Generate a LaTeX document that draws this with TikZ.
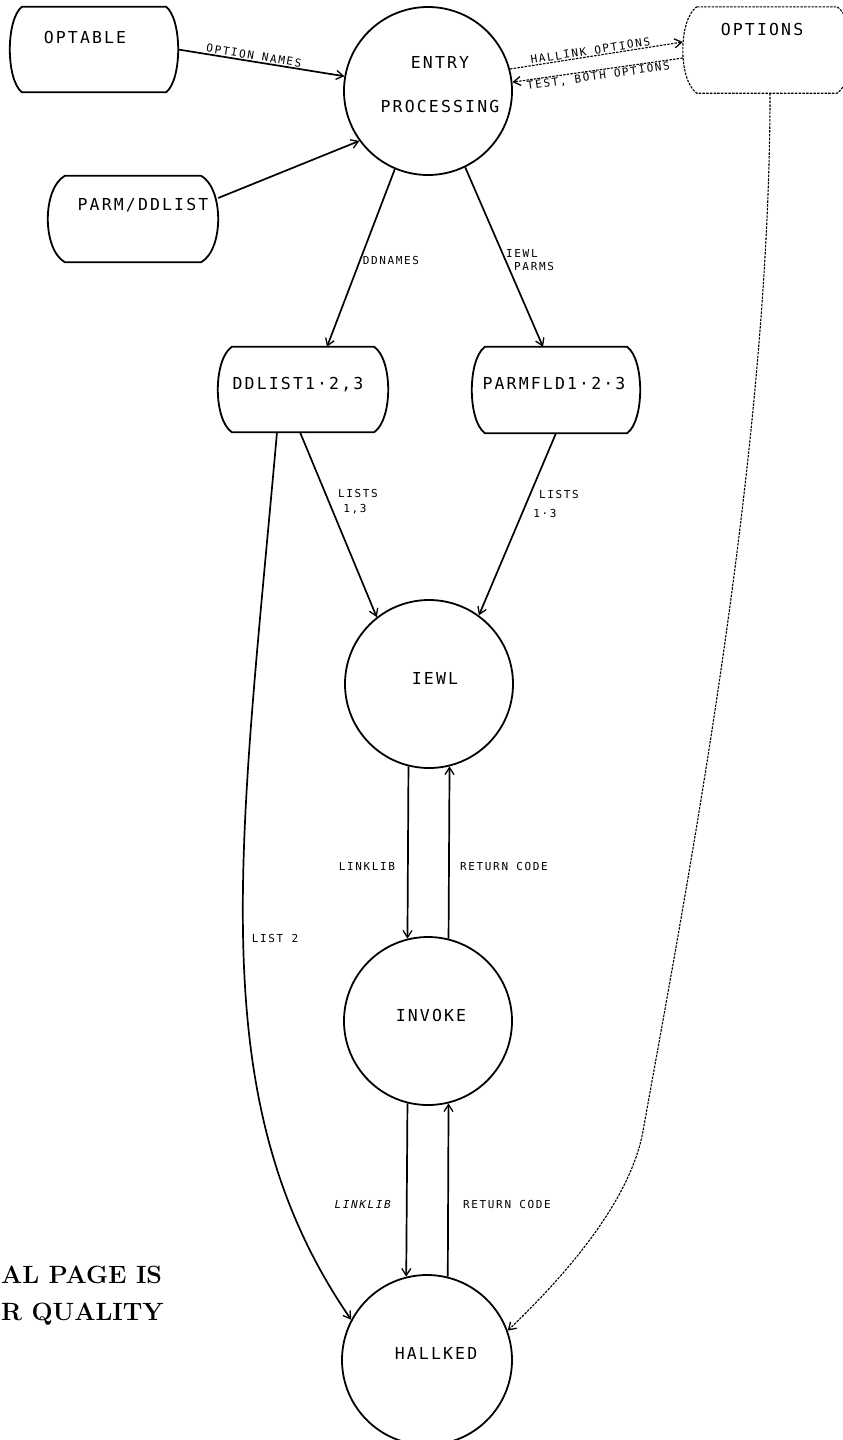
\documentclass[tikz,border=0pt]{standalone}
\usepackage{fontspec}
\usetikzlibrary{arrows.meta,calc}
\newfontfamily\plotbig[LetterSpace=13]{DejaVu Sans Mono}
\newfontfamily\plotsmall[LetterSpace=15]{DejaVu Sans Mono}
\newfontfamily\plotslant[LetterSpace=15,FakeSlant=0.2]{DejaVu Sans Mono}
\newcommand\storeoutline[4][]{%
 \draw[boxline,#1] ([xshift=#3pt]#2.north west) -- ([xshift=-#3pt]#2.north east)
 .. controls ([xshift=#3pt/3,yshift=-#4pt]#2.north east) and ([xshift=#3pt/3,yshift=#4pt]#2.south east) .. ([xshift=-#3pt]#2.south east)
 -- ([xshift=#3pt]#2.south west)
 .. controls ([xshift=-#3pt/3,yshift=#4pt]#2.south west) and ([xshift=-#3pt/3,yshift=-#4pt]#2.north west) .. cycle;}
\tikzset{
 lbl/.style={font=\plotsmall\fontsize{11pt}{13pt}\selectfont, inner sep=1pt},
 lbls/.style={font=\plotslant\fontsize{11pt}{13pt}\selectfont, inner sep=1pt},
 big/.style={font=\plotbig\fontsize{16.5pt}{20pt}\selectfont, inner sep=0pt},
 proc/.style={circle, draw, line width=1.8pt, minimum size=168pt, inner sep=0pt},
 store/.style={rectangle, inner sep=0pt, minimum height=85pt},
 boxline/.style={line width=1.8pt, line join=round},
 flow/.style={line width=1.7pt, -{Straight Barb[length=7pt,width=9pt,line width=1.3pt]}},
 dflow/.style={flow, dash pattern=on 2.5pt off 1.2pt, line width=1.1pt},
 stampf/.style={font=\bfseries\fontsize{25pt}{30pt}\selectfont, anchor=base west, inner sep=0pt},
}
\begin{document}
\begin{tikzpicture}[x=1pt,y=-1pt]
\useasboundingbox (0,0) rectangle (843,1440);
% stores
\node[store, minimum width=168pt] (optable) at (94,49.5) {};
\node[store, minimum width=170pt, minimum height=86pt] (parmdd) at (133,219) {};
\node[store, minimum width=168pt, minimum height=86pt] (options) at (767,50) {};
\node[store, minimum width=170pt] (ddlist) at (303,389.5) {};
\node[store, minimum width=168pt, minimum height=86pt] (parmfld) at (556,390) {};
\storeoutline{optable}{12}{13}
\storeoutline{parmdd}{17}{13}
\storeoutline[dash pattern=on 2.5pt off 1.2pt, line width=1.1pt]{options}{14}{13}
\storeoutline{ddlist}{14}{13}
\storeoutline{parmfld}{13}{13}
\node[big] (optable-t) at (85,37) {OPTABLE};
\node[big] (parmdd-t) at (143,205) {PARM/DDLIST};
\node[big] (options-t) at (762,29) {OPTIONS};
\node[big] (ddlist-t) at (298,385) {DDLIST1·2,3};
\node[big] (parmfld-t) at (554,383) {PARMFLD1·2·3};
% processes
\node[proc] (entry) at (428,91) {};
\node[proc] (iewl) at (429,684) {};
\node[proc] (invoke) at (428,1021) {};
\node[proc, minimum size=170pt] (hallked) at (427,1360) {};
\node[big] (entry-t1) at (440,62) {ENTRY};
\node[big] (entry-t2) at (440,106) {PROCESSING};
\node[big] (iewl-t) at (435,678) {IEWL};
\node[big] (invoke-t) at (431,1015) {INVOKE};
\node[big] (hallked-t) at (436,1353) {HALLKED};
% flows
\draw[flow] (optable.east) -- node[lbl, sloped, above, pos=.45] (l-optnames) {OPTION NAMES} (entry.170);
\draw[flow] ([yshift=21pt]parmdd.east) -- (entry.216);
\draw[dflow] (entry.15) -- node[lbl, sloped, above, pos=.47] (l-hallink) {HALLINK OPTIONS} ([yshift=8pt]options.west);
\draw[dflow] ([yshift=-8pt]options.west) -- node[lbl, sloped, below, pos=.5] (l-test) {TEST, BOTH OPTIONS} (entry.6);
\draw[flow] (entry.247) -- ([xshift=24pt]ddlist.north);
\draw[flow] (entry.-64) -- ([xshift=-13pt]parmfld.north);
\draw[flow] ([xshift=-3pt]ddlist.south) -- (iewl.128);
\draw[flow] (parmfld.south) -- (iewl.54);
\draw[flow] (iewl.-104) -- (invoke.104);
\draw[flow] (invoke.76) -- (iewl.-76);
\draw[flow] (invoke.-104) -- (hallked.104);
\draw[flow] (hallked.76) -- (invoke.-76);
\draw[flow] ([xshift=-26pt]ddlist.south) .. controls (240,850) and (200,1100) .. (hallked.152);
\coordinate (bend) at (643,1131);
\draw[dflow] ([xshift=3pt]options.south) .. controls (770,450) and (690,870) .. (bend) .. controls (629,1209) and (550,1290) .. (hallked.20);
% flow labels
\node[lbl] (l-ddnames) at (391,260) {DDNAMES};
\node[lbl, align=left, anchor=west] (l-iewlparms) at (505,260) {IEWL\\\hspace*{8pt}PARMS};
\node[lbl] (l-lists1a) at (358,493) {LISTS};
\node[lbl] (l-lists1b) at (355,509) {1,3};
\node[lbl] (l-lists2a) at (559,494) {LISTS};
\node[lbl] (l-lists2b) at (545,513) {1·3};
\node[lbl] (l-linklib1) at (367,866) {LINKLIB};
\node[lbl] (l-rc1) at (504,866) {RETURN CODE};
\node[lbls] (l-linklib2) at (362,1204) {LINKLIB};
\node[lbl] (l-rc2) at (507,1204) {RETURN CODE};
\node[lbl] (l-list2) at (275,938) {LIST 2};
% stamp
\node[stampf] (stamp1) at (1,1283) {AL PAGE IS};
\node[stampf] (stamp2) at (1,1320) {R QUALITY};
\end{tikzpicture}
\end{document}
